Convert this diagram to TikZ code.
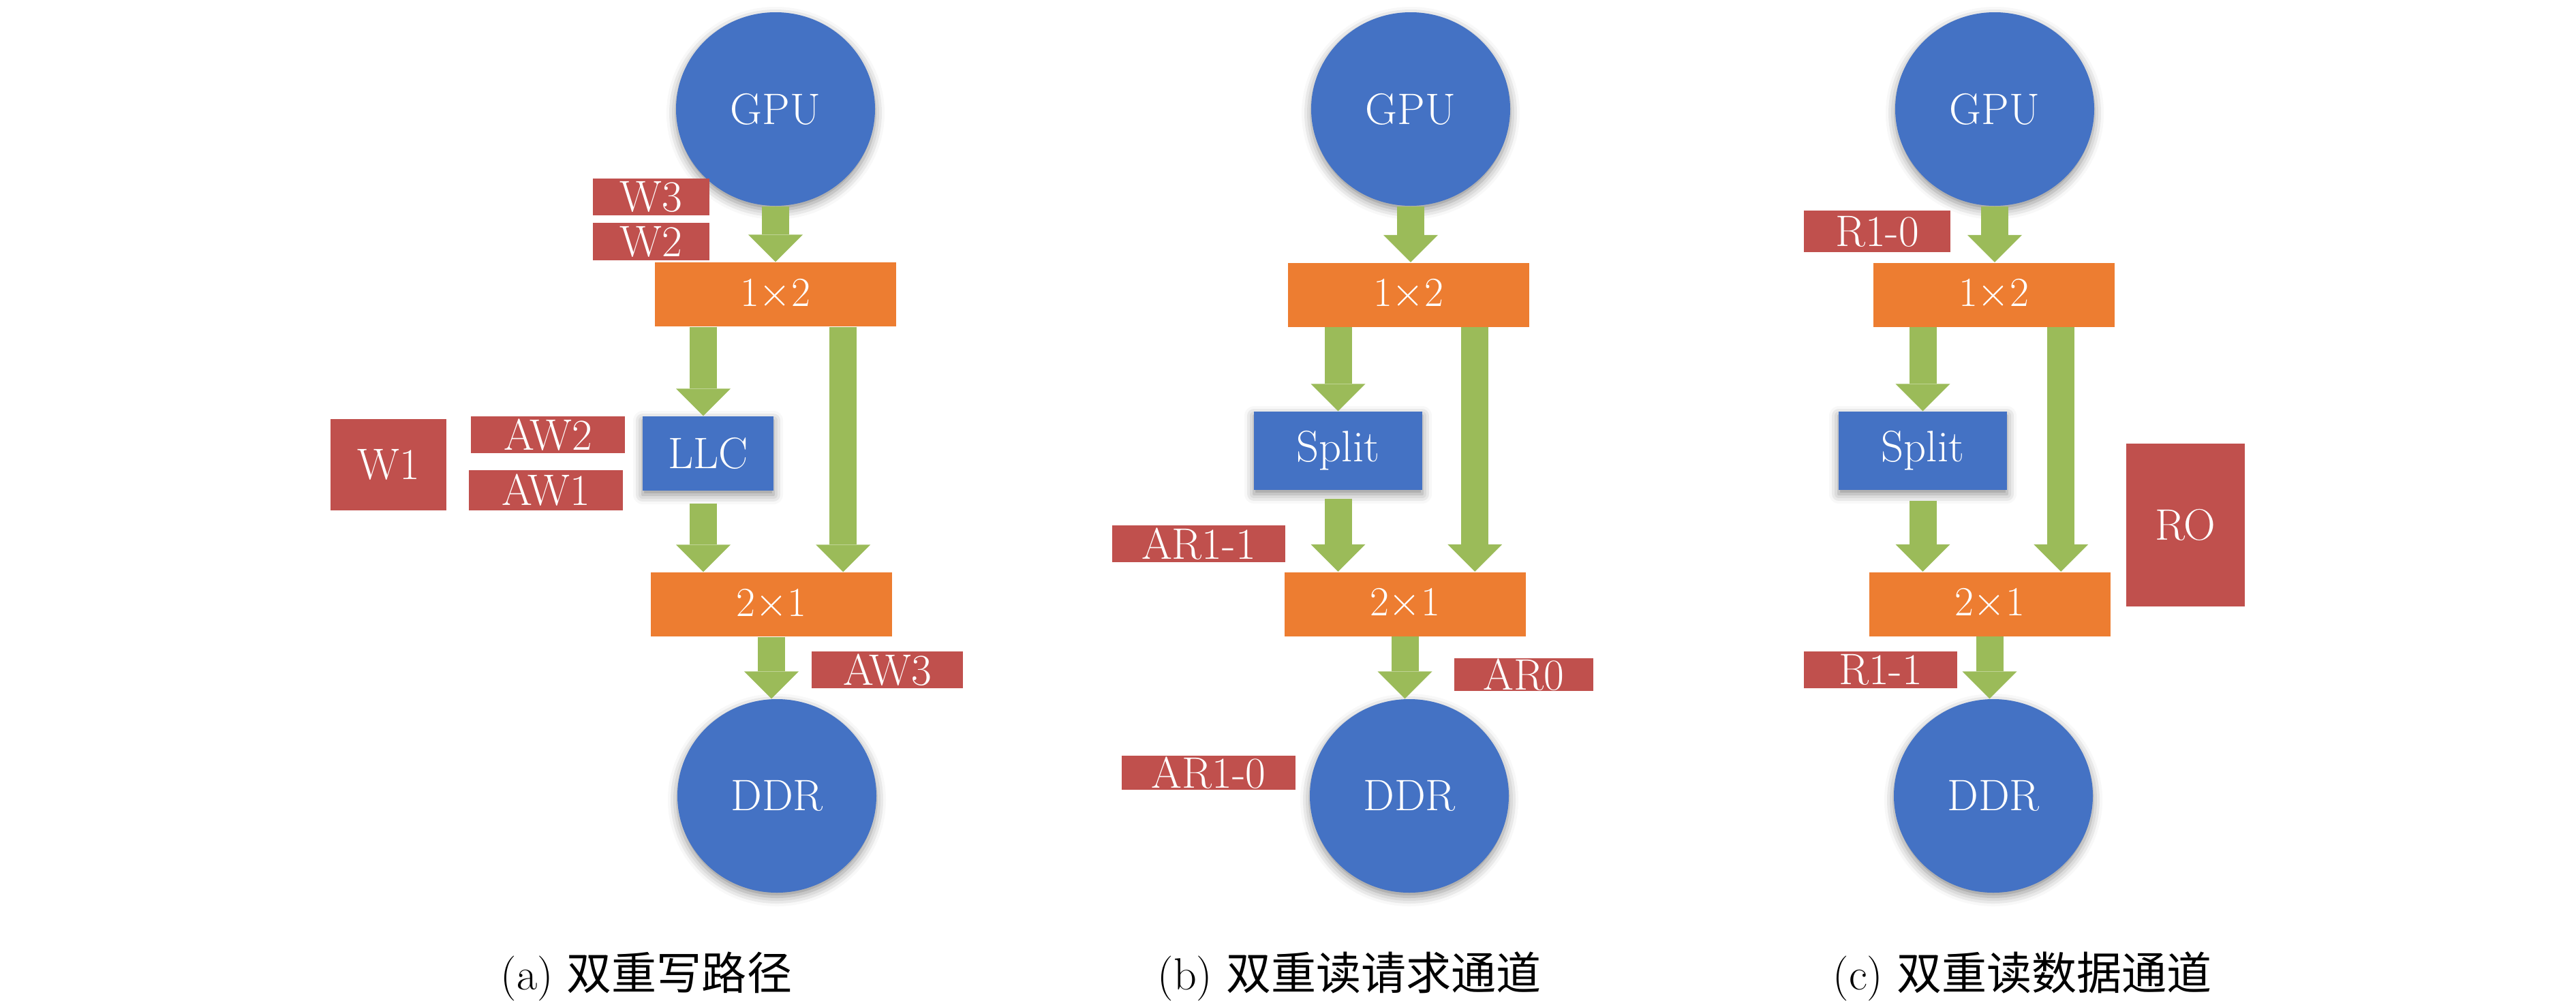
\documentclass[tikz,border=0pt]{standalone}
\usepackage{fontspec}
\newfontfamily\cjk{Noto Sans CJK SC}
\usetikzlibrary{arrows.meta,shapes.geometric,shadows.blur,calc}
\definecolor{nblue}{HTML}{4472C4}
\definecolor{norange}{HTML}{ED7D31}
\definecolor{ngreen}{HTML}{9BBB59}
\definecolor{nred}{HTML}{C0504D}
\begin{document}
\begin{tikzpicture}[x=1cm,y=1cm,
  every node/.style={font=\fontsize{18.4pt}{22pt}\selectfont, text=white, inner sep=0pt},
  softshadow/.style={blur shadow={shadow xshift=0pt, shadow yshift=-0.06cm, shadow blur radius=0.14cm, shadow opacity=45}},
  circ/.style={ellipse, fill=nblue, minimum width=2.92cm, minimum height=2.84cm, softshadow},
  bluebox/.style={rectangle, fill=nblue, softshadow},
  orbox/.style={rectangle, fill=norange, minimum width=3.54cm, minimum height=0.94cm},
  redbox/.style={rectangle, fill=nred},
  garrow/.style={draw=ngreen, line width=0.4cm, -{Triangle[width=0.8cm,length=0.4cm,line width=0pt]}},
  captext/.style={text=black, anchor=base west, font=\fontsize{18.8pt}{22pt}\selectfont}
]
\useasboundingbox (0,0) rectangle (37.8,-14.69);

% ---------- (a) ----------
\node[circ] (gpuA) at (11.38,-1.60) {GPU};
\node[circ] (ddrA) at (11.40,-11.68) {DDR};
\node[orbox] (s12A) at (11.375,-4.32) {$1{\times}2$};
\node[orbox] (m21A) at (11.32,-8.87) {$2{\times}1$};
\node[bluebox, minimum width=1.92cm, minimum height=1.09cm] (llcA) at (10.39,-6.655) {LLC};
\node[redbox, minimum width=1.71cm, minimum height=0.54cm] (w3) at (9.555,-2.89) {W3};
\node[redbox, minimum width=1.71cm, minimum height=0.55cm] (w2) at (9.555,-3.545) {W2};
\node[redbox, minimum width=2.26cm, minimum height=0.54cm] (aw2) at (8.04,-6.38) {AW2};
\node[redbox, minimum width=2.26cm, minimum height=0.59cm] (aw1) at (8.01,-7.195) {AW1};
\node[redbox, minimum width=1.70cm, minimum height=1.34cm] (w1) at (5.70,-6.82) {W1};
\node[redbox, minimum width=2.22cm, minimum height=0.54cm] (aw3) at (13.02,-9.83) {AW3};
\draw[garrow] (gpuA.south) -- (gpuA.south |- s12A.north);
\draw[garrow] ([xshift=-0.07cm]s12A.south -| llcA.north) -- ([xshift=-0.07cm]llcA.north);
\draw[garrow] ([xshift=-0.07cm,yshift=-0.18cm]llcA.south) -- ([xshift=-0.07cm]llcA.south |- m21A.north);
\draw[garrow] ([xshift=-0.78cm]s12A.south east) -- ([xshift=-0.78cm]s12A.south east |- m21A.north);
\draw[garrow] (m21A.south) -- (m21A.south |- ddrA.north);
\node[captext] (capA) at (7.34,-14.52) {(a) {\cjk 双重写路径}};

% ---------- (b) ----------
\node[circ] (gpuB) at (20.70,-1.60) {GPU};
\node[circ] (ddrB) at (20.68,-11.68) {DDR};
\node[orbox] (s12B) at (20.665,-4.325) {$1{\times}2$};
\node[orbox] (m21B) at (20.615,-8.865) {$2{\times}1$};
\node[bluebox, minimum width=2.47cm, minimum height=1.15cm] (splitB) at (19.635,-6.615) {Split};
\node[redbox, minimum width=2.54cm, minimum height=0.54cm] (ar11) at (17.59,-7.98) {AR1-1};
\node[redbox, minimum width=2.04cm, minimum height=0.48cm] (ar0) at (22.36,-9.90) {AR0};
\node[redbox, minimum width=2.55cm, minimum height=0.50cm] (ar10) at (17.735,-11.34) {AR1-0};
\draw[garrow] (gpuB.south) -- (gpuB.south |- s12B.north);
\draw[garrow] (s12B.south -| splitB.north) -- (splitB.north);
\draw[garrow] ([yshift=-0.12cm]splitB.south) -- (splitB.south |- m21B.north);
\draw[garrow] ([xshift=-0.8cm]s12B.south east) -- ([xshift=-0.8cm]s12B.south east |- m21B.north);
\draw[garrow] (m21B.south) -- (m21B.south |- ddrB.north);
\node[captext] (capB) at (16.98,-14.52) {(b) {\cjk 双重读请求通道}};

% ---------- (c) ----------
\node[circ] (gpuC) at (29.27,-1.60) {GPU};
\node[circ] (ddrC) at (29.25,-11.68) {DDR};
\node[orbox] (s12C) at (29.255,-4.325) {$1{\times}2$};
\node[orbox] (m21C) at (29.195,-8.865) {$2{\times}1$};
\node[bluebox, minimum width=2.47cm, minimum height=1.15cm] (splitC) at (28.215,-6.615) {Split};
\node[redbox, minimum width=2.15cm, minimum height=0.61cm] (r10) at (27.545,-3.395) {R1-0};
\node[redbox, minimum width=1.74cm, minimum height=2.39cm] (ro) at (32.07,-7.705) {RO};
\node[redbox, minimum width=2.25cm, minimum height=0.54cm] (r11) at (27.595,-9.83) {R1-1};
\draw[garrow] (gpuC.south) -- (gpuC.south |- s12C.north);
\draw[garrow] (s12C.south -| splitC.north) -- (splitC.north);
\draw[garrow] ([yshift=-0.15cm]splitC.south) -- (splitC.south |- m21C.north);
\draw[garrow] ([xshift=-0.79cm]s12C.south east) -- ([xshift=-0.79cm]s12C.south east |- m21C.north);
\draw[garrow] (m21C.south) -- (m21C.south |- ddrC.north);
\node[captext] (capC) at (26.89,-14.52) {(c) {\cjk 双重读数据通道}};
\end{tikzpicture}
\end{document}
